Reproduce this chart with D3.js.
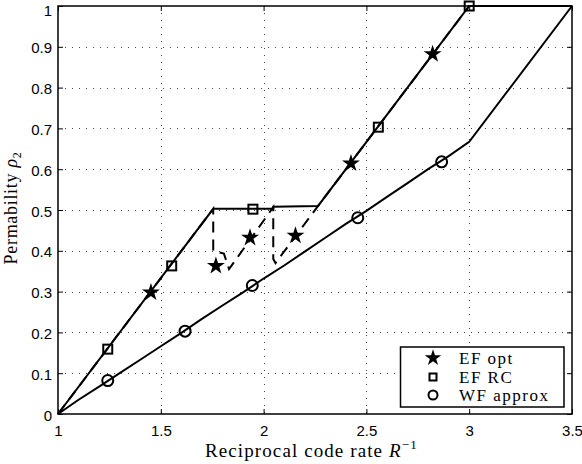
<!DOCTYPE html>
<html>
<head>
<meta charset="utf-8">
<script src="https://cdn.jsdelivr.net/npm/d3@7"></script>
<style>
  body { margin: 0; background: #fff; }
  svg { display: block; }
  .tick text { font-family: "Liberation Sans", Arial, sans-serif; font-size: 15px; fill: #000; }
  .serif { font-family: "Liberation Serif", "Times New Roman", serif; fill: #000; }
</style>
</head>
<body>
<svg id="chart" width="582" height="464"></svg>
<script>
// --- Data ---
const xTicks = [1, 1.5, 2, 2.5, 3, 3.5];
const yTicks = [0, 0.1, 0.2, 0.3, 0.4, 0.5, 0.6, 0.7, 0.8, 0.9, 1];

// EF RC (solid upper curve)
const efRcX = [1, 1.755, 2.047, 2.047, 2.265, 3, 3.5];
const efRcY = [0, 0.503, 0.503, 0.508, 0.510, 1, 1];
// EF opt (dashed curve, overlaps EF RC where they agree)
const efOptX = [1, 1.755, 1.755, 1.807, 1.832, 2.047, 2.047, 2.058, 2.265, 3, 3.5];
const efOptY = [0, 0.503, 0.400, 0.393, 0.355, 0.507, 0.380, 0.370, 0.510, 1, 1];
// WF approx (lower solid curve)
const wfX = [1, 1.1, 1.2, 1.3, 1.4, 1.5, 1.6, 1.7, 1.8, 1.9, 2.0, 2.1, 2.2, 2.3, 2.4, 2.5, 2.6, 2.7, 2.8, 2.9, 3.0, 3.5];
const wfY = [0, 0.035, 0.067, 0.100, 0.133, 0.166, 0.199, 0.233, 0.266, 0.298, 0.332, 0.364, 0.398, 0.432, 0.466, 0.498, 0.532, 0.566, 0.600, 0.632, 0.667, 1];

// marker positions
const starX = [1.452, 1.768, 1.934, 2.155, 2.425, 2.822];
const starY = [0.298, 0.363, 0.432, 0.437, 0.614, 0.882];
const squareX = [1.242, 1.553, 1.948, 2.558, 3.0];
const squareY = [0.159, 0.363, 0.502, 0.703, 1.0];
const circleX = [1.242, 1.618, 1.945, 2.458, 2.866];
const circleY = [0.082, 0.203, 0.315, 0.481, 0.618];

const legendLabels = ["EF opt", "EF RC", "WF approx"];

// --- Layout ---
const svg = d3.select("#chart");
const pLeft = 58, pRight = 572, pTop = 6, pBottom = 414;

const x = d3.scaleLinear().domain([1, 3.5]).range([pLeft, pRight]);
const y = d3.scaleLinear().domain([0, 1]).range([pBottom, pTop]);

const zip = (xs, ys) => xs.map((v, i) => [v, ys[i]]);
const line = d3.line().x(d => x(d[0])).y(d => y(d[1]));

// grid (dotted)
const grid = svg.append("g").attr("stroke", "#444").attr("stroke-width", 1)
  .attr("stroke-dasharray", "1,6");
grid.selectAll(".gx").data(xTicks.slice(1, -1)).enter().append("line")
  .attr("x1", d => Math.round(x(d)) + 0.5).attr("x2", d => Math.round(x(d)) + 0.5)
  .attr("y1", pTop).attr("y2", pBottom);
grid.selectAll(".gy").data(yTicks.slice(1, -1)).enter().append("line")
  .attr("y1", d => Math.round(y(d)) + 0.5).attr("y2", d => Math.round(y(d)) + 0.5)
  .attr("x1", pLeft).attr("x2", pRight);

// axes with inward ticks
svg.append("g").attr("transform", `translate(0,${pBottom})`)
  .call(d3.axisBottom(x).tickValues(xTicks).tickSize(-5).tickPadding(11).tickFormat(d3.format("")));
svg.append("g").attr("transform", `translate(0,${pTop})`)
  .call(d3.axisTop(x).tickValues(xTicks).tickSize(-5).tickFormat(""));
const yAxis = svg.append("g").attr("transform", `translate(${pLeft},0)`)
  .call(d3.axisLeft(y).tickValues(yTicks).tickSize(-5).tickPadding(6).tickFormat(d3.format("")));
svg.append("g").attr("transform", `translate(${pRight},0)`)
  .call(d3.axisRight(y).tickValues(yTicks).tickSize(-5).tickFormat(""));
svg.selectAll(".domain").remove();
svg.selectAll(".tick line").attr("stroke", "#000").attr("stroke-width", 1);
// y labels sit about a pixel low; the top one is pushed down to fit
yAxis.selectAll(".tick text").attr("dy", d => d === 1 ? "0.6em" : "0.4em");

svg.append("rect").attr("x", pLeft).attr("y", pTop)
  .attr("width", pRight - pLeft).attr("height", pBottom - pTop)
  .attr("fill", "none").attr("stroke", "#000").attr("stroke-width", 1.5);

// curves
svg.append("path").attr("d", line(zip(wfX, wfY)))
  .attr("fill", "none").attr("stroke", "#000").attr("stroke-width", 2);
svg.append("path").attr("d", line(zip(efRcX, efRcY)))
  .attr("fill", "none").attr("stroke", "#000").attr("stroke-width", 2);
svg.append("path").attr("d", line(zip(efOptX, efOptY)))
  .attr("fill", "none").attr("stroke", "#000").attr("stroke-width", 2)
  .attr("stroke-dasharray", "11,7");

// markers
const star = d3.symbol().type(d3.symbolStar).size(100);
svg.selectAll(".star").data(zip(starX, starY)).enter().append("path")
  .attr("d", star).attr("transform", d => `translate(${x(d[0])},${y(d[1])})`)
  .attr("fill", "#000");
svg.selectAll(".sq").data(zip(squareX, squareY)).enter().append("rect")
  .attr("x", d => x(d[0]) - 4.5).attr("y", d => y(d[1]) - 4.5)
  .attr("width", 9).attr("height", 9)
  .attr("fill", "none").attr("stroke", "#000").attr("stroke-width", 2);
svg.selectAll(".ci").data(zip(circleX, circleY)).enter().append("circle")
  .attr("cx", d => x(d[0])).attr("cy", d => y(d[1])).attr("r", 5.5)
  .attr("fill", "none").attr("stroke", "#000").attr("stroke-width", 2);

// legend
const lg = svg.append("g");
lg.append("rect").attr("x", 400.5).attr("y", 347).attr("width", 163.5).attr("height", 60)
  .attr("fill", "#fff").attr("stroke", "#000").attr("stroke-width", 1.5);
const rowY = [358, 377, 395];
lg.append("path").attr("d", d3.symbol().type(d3.symbolStar).size(85))
  .attr("transform", `translate(433,${rowY[0]})`).attr("fill", "#000");
lg.append("rect").attr("x", 429.5).attr("y", rowY[1] - 3.5).attr("width", 7).attr("height", 7)
  .attr("fill", "none").attr("stroke", "#000").attr("stroke-width", 2);
lg.append("circle").attr("cx", 433).attr("cy", rowY[2]).attr("r", 4.5)
  .attr("fill", "none").attr("stroke", "#000").attr("stroke-width", 2);
lg.selectAll(".lt").data(legendLabels).enter().append("text")
  .attr("class", "serif")
  .attr("x", 459).attr("y", (d, i) => rowY[i] + 5.5)
  .attr("font-size", 17).attr("letter-spacing", 1.5)
  .text(d => d);

// axis labels
const xl = svg.append("text").attr("class", "serif")
  .attr("x", 205).attr("y", 457).attr("font-size", 19).attr("letter-spacing", 1.1);
xl.append("tspan").text("Reciprocal code rate ");
xl.append("tspan").attr("font-style", "italic").text("R");
xl.append("tspan").attr("font-size", 13).attr("dy", -8).text("−1");

const yl = svg.append("text").attr("class", "serif")
  .attr("transform", "translate(17,208) rotate(-90)")
  .attr("text-anchor", "middle").attr("font-size", 18).attr("letter-spacing", 0.7);
yl.append("tspan").text("Permability ");
yl.append("tspan").attr("font-style", "italic").text("ρ");
yl.append("tspan").attr("font-size", 12).attr("dy", 4).text("2");
</script>
</body>
</html>
